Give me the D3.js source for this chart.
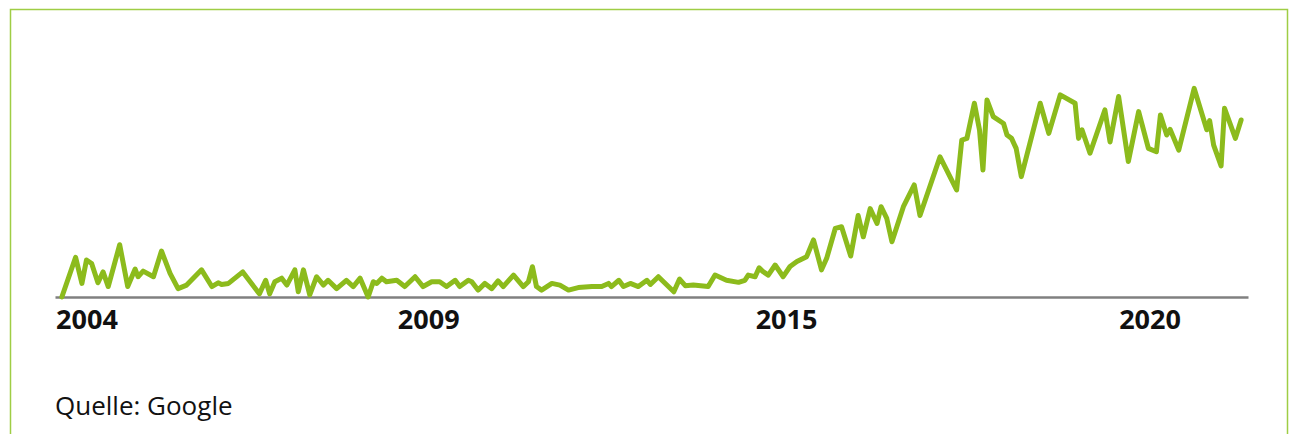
<!DOCTYPE html>
<html>
<head>
<meta charset="utf-8">
<script src="https://cdn.jsdelivr.net/npm/d3@7"></script>
<style>
  body { margin: 0; background: #fff; }
  svg { display: block; font-family: "Open Sans", sans-serif; }
</style>
</head>
<body>
<script>
// months since Jan 2004 (at each vertex)
const months = [0, 2.4, 3.5, 4.3, 5.2, 6.3, 7.2, 8.1, 10.1, 11.5, 12.8, 13.3, 14.2, 16, 17.4, 18.9,
  20.3, 21.8, 24.4, 26.2, 27.3, 27.9, 29.1, 31.6, 34.5, 35.6, 36.3, 37.2, 38.4, 39.3, 40.7, 41.3,
  42.2, 43.3, 44.5, 45.7, 46.5, 48, 49.7, 50.9, 52.1, 53.5, 54.4, 55, 55.9, 56.7, 58.5, 59.9,
  61.7, 63.1, 64.6, 66, 67.2, 68.7, 69.5, 71, 71.6, 72.7, 73.9, 75.1, 76.2, 77.1, 78.9, 80.6,
  81.5, 82.2, 82.9, 83.8, 85.6, 87, 88.5, 90.2, 92.6, 94.3, 95.5, 96, 97.3, 98.1, 99.3, 100.7,
  102.2, 102.8, 104.2, 106.9, 107.9, 108.9, 110.3, 112.9, 114.1, 116.1, 118.2, 119.3, 119.9,
  121.1, 121.8, 122.5, 123.4, 124.6, 126, 127.2, 128.4, 130.1, 131.3, 132.7, 133.6, 135.1,
  136.2, 137.8, 139.1, 140, 141.2, 142.4, 143.1, 144.1, 145, 147, 148.9, 149.9, 153.4, 156.3,
  157.2, 158.1, 159.4, 160.3, 160.9, 161.6, 162.7, 164.5, 165.1, 165.9, 166.7, 167.6, 170.9,
  172.4, 174.4, 177, 177.6, 178.2, 179.6, 182.2, 183.1, 184.6, 186.3, 188.1, 189.8, 191.2,
  191.9, 193, 193.6, 195.1, 197.8, 200, 200.5, 201.2, 202.5, 203.1, 205, 206];

// search interest (0-100)
const interest = [0, 19, 6.5, 17.7, 16, 6.8, 12, 5, 25, 5, 13.4, 9.7, 12.4, 9.7, 22, 11.3,
  4, 5.7, 13, 5, 6.8, 6, 6.5, 12, 1.5, 8, 1.5, 7.3, 9, 5.7, 13, 2.5,
  13, 1, 9.7, 5.7, 8, 4, 8, 5, 9, 0, 7.3, 6.5, 9, 7.3, 8, 5,
  9.7, 5, 7.3, 7.3, 5, 8, 5, 8, 7.3, 3.3, 6.5, 4, 7.7, 5, 10.5, 5,
  7.3, 14.5, 5, 3.3, 6.5, 5.7, 3.3, 4.5, 5, 5, 6.5, 5, 8, 5, 6.5, 5,
  8, 6, 9.7, 2.5, 8.6, 5.4, 5.7, 5, 10.5, 8, 7, 8, 10.5,
  9.7, 14, 12.1, 10.5, 15.3, 9.7, 14.6, 17, 19.3, 27.3, 13, 18.5, 32.8,
  33.6, 19.6, 39, 28.8, 42.3, 35.2, 43.2, 37.6, 26.4, 43.2, 53.6, 39, 67.1, 51.2,
  75.1, 75.9, 92.7, 79.9, 60.8, 94.3, 86.3, 83, 77.5, 75.9, 71.1, 57.6, 92.7,
  78.3, 96.7, 92.7, 75.9, 80, 68.8, 89.5, 74.2, 95.9, 64.8, 88.7, 71.1, 69.5,
  87.1, 77.5, 80.2, 70.3, 99.8, 80, 84.4, 72.7, 62.7, 90.3, 75.9, 84.7];

const tickMonths = [4.3, 64, 126.5, 190];
const tickLabels = ["2004", "2009", "2015", "2020"];

const width = 1298, height = 434;

const svg = d3.select("body").append("svg")
    .attr("width", width)
    .attr("height", height);

// green frame
svg.append("rect")
    .attr("x", 10.5)
    .attr("y", 9.5)
    .attr("width", 1277)
    .attr("height", 440)
    .attr("fill", "none")
    .attr("stroke", "#9fcd45")
    .attr("stroke-width", 1.5);

const x = d3.scaleLinear().domain([-1.2, 207.2]).range([55, 1248]);
const y = d3.scaleLinear().domain([0, 100]).range([297, 88]);

const data = months.map((m, i) => ({ m: m, v: interest[i] }));

// bottom axis
const axis = svg.append("g")
    .attr("transform", "translate(0," + y(0) + ")")
    .call(d3.axisBottom(x)
        .tickValues(tickMonths)
        .tickFormat((d, i) => tickLabels[i])
        .tickSize(0)
        .tickPadding(13));

axis.select(".domain")
    .attr("stroke", "#808080")
    .attr("stroke-width", 2.5);

axis.selectAll("text")
    .attr("fill", "#111")
    .style("font-family", "'Open Sans', sans-serif")
    .style("font-weight", "bold")
    .style("font-size", "27px");

// the line
const line = d3.line()
    .x(d => x(d.m))
    .y(d => y(d.v));

svg.append("path")
    .datum(data)
    .attr("d", line)
    .attr("fill", "none")
    .attr("stroke", "#8cbb1c")
    .attr("stroke-width", 5)
    .attr("stroke-linejoin", "round")
    .attr("stroke-linecap", "round");

// source note
svg.append("text")
    .attr("x", 55)
    .attr("y", 415)
    .attr("fill", "#111")
    .style("font-size", "26px")
    .text("Quelle: Google");
</script>
</body>
</html>
